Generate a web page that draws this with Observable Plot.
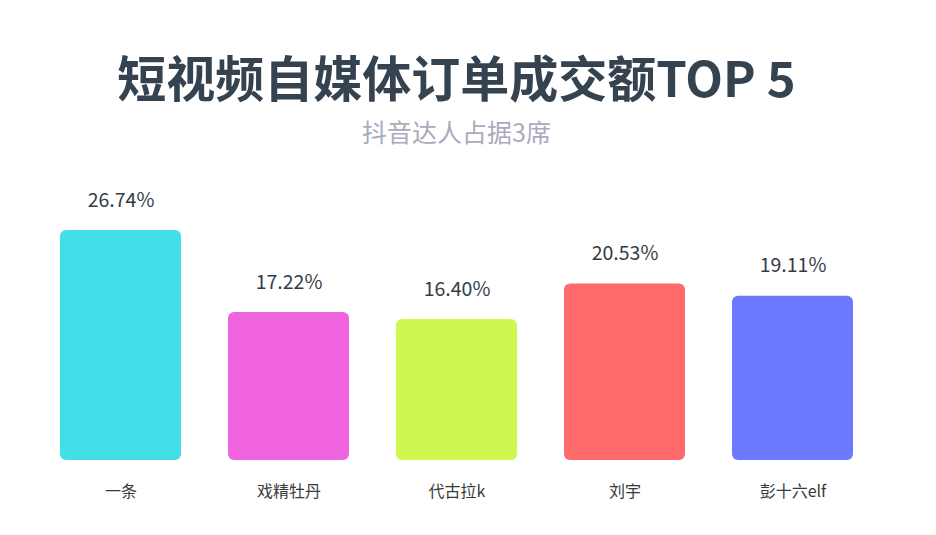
<!DOCTYPE html>
<html>
<head>
<meta charset="utf-8">
<script src="https://cdn.jsdelivr.net/npm/d3@7"></script>
<script src="https://cdn.jsdelivr.net/npm/@observablehq/plot@0.6"></script>
<style>
  body { margin: 0; background: #fff; font-family: "Noto Sans CJK SC", "Noto Sans", sans-serif; }
  #wrap { position: relative; width: 936px; height: 535px; overflow: hidden; }
  #title { position: absolute; left: 0; width: 913px; top: 51px; height: 50px; line-height: 50px; text-align: center; font-size: 49px; font-weight: 700; color: #35424f; }
  #subtitle { position: absolute; left: 0; width: 913px; top: 118px; height: 26px; line-height: 26px; text-align: center; font-size: 25px; color: #abaabd; }
  #chart { position: absolute; left: 0; top: 160px; }
</style>
</head>
<body>
<div id="wrap">
  <div id="title">短视频自媒体订单成交额TOP 5</div>
  <div id="subtitle">抖音达人占据3席</div>
  <div id="chart"></div>
</div>
<script>
const categories = ["一条", "戏精牡丹", "代古拉k", "刘宇", "彭十六elf"];
const values = [26.74, 17.22, 16.40, 20.53, 19.11];
const colors = ["#42dfe8", "#f064df", "#d0f750", "#ff6b6b", "#6b78ff"];

const data = categories.map((c, i) => ({ name: c, value: values[i], color: colors[i] }));

const chart = Plot.plot({
  width: 936,
  height: 375,
  marginTop: 70,
  marginBottom: 75,
  marginLeft: 36,
  marginRight: 59,
  style: { fontFamily: "'Noto Sans CJK SC', 'Noto Sans', sans-serif", background: "transparent" },
  x: { domain: categories, paddingInner: 0.28, paddingOuter: 0.14, label: null },
  y: { domain: [0, 26.74], axis: null },
  marks: [
    Plot.barY(data, { x: "name", y: "value", fill: "color", rx: 6 }),
    Plot.text(data, { x: "name", y: "value", text: d => d.value.toFixed(2) + "%", dy: -30, fontSize: 19.5, fill: "#333b47" }),
    Plot.axisX({ tickSize: 0, tickPadding: 25, fontSize: 16, color: "#3a3a3a", label: null })
  ]
});
document.getElementById("chart").appendChild(chart);
</script>
</body>
</html>
